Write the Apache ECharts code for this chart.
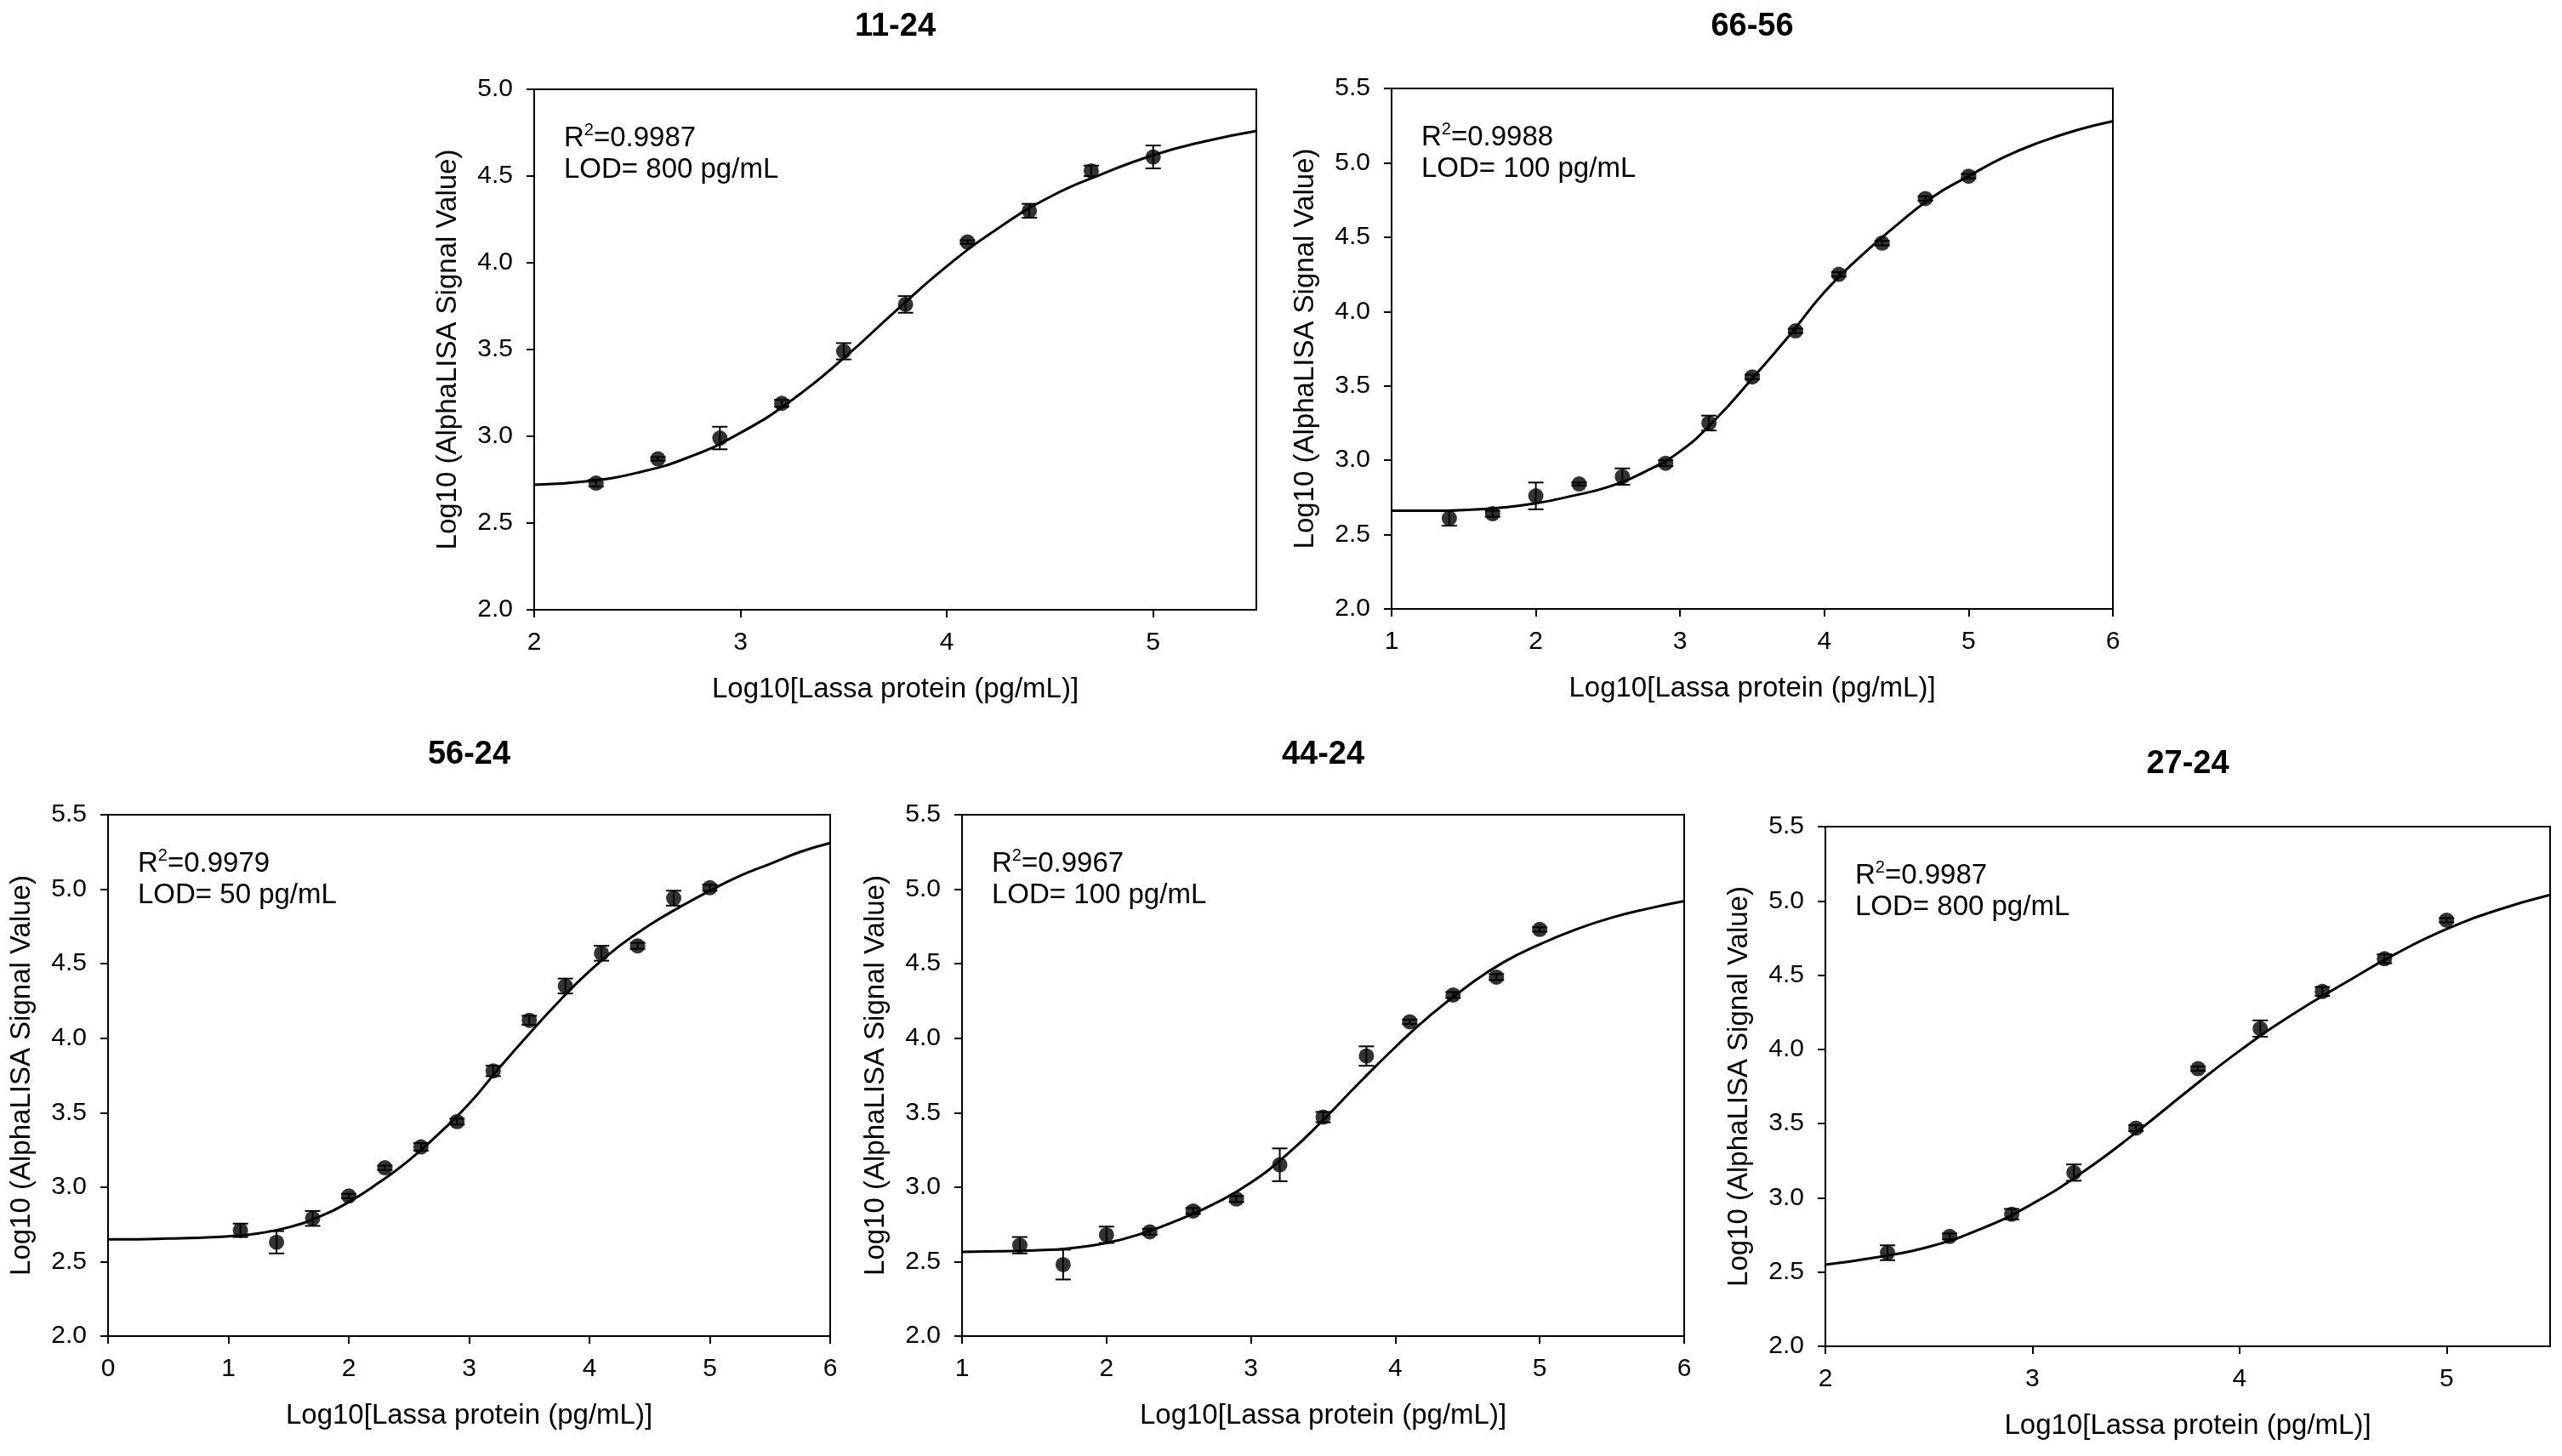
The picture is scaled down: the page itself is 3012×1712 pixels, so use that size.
<!DOCTYPE html>
<html>
<head>
<meta charset="utf-8">
<script src="https://cdn.jsdelivr.net/npm/echarts@6/dist/echarts.min.js"></script>
<style>
  html, body { margin: 0; padding: 0; background: #fff; }
  #chart { width: 3012px; height: 1712px; }
</style>
</head>
<body>
<div id="chart"></div>
<script>
// panel labels and fit stats
const titles = ['11-24', '66-56', '56-24', '44-24', '27-24']
const r2 = ['0.9987', '0.9988', '0.9979', '0.9967', '0.9987']
const lod = ['800', '100', '50', '100', '800']

// axis ranges
const xMin = [2, 1, 0, 1, 2]
const xMax = [5.5, 6, 6, 6, 5.5]
const yMax = [5.0, 5.5, 5.5, 5.5, 5.5]
const xTicks1 = [2, 3, 4, 5]
const xTicks2 = [1, 2, 3, 4, 5, 6]
const xTicks3 = [0, 1, 2, 3, 4, 5, 6]

// measured points (mean, +/- error)
const x1 = [2.3, 2.6, 2.9, 3.2, 3.5, 3.8, 4.1, 4.4, 4.7, 5.0]
const y1 = [2.73, 2.87, 2.99, 3.19, 3.49, 3.76, 4.12, 4.30, 4.53, 4.61]
const e1 = [0.02, 0.01, 0.065, 0.02, 0.047, 0.048, 0.01, 0.04, 0.03, 0.066]

const x2 = [1.4, 1.7, 2.0, 2.3, 2.6, 2.9, 3.2, 3.5, 3.8, 4.1, 4.4, 4.7, 5.0]
const y2 = [2.61, 2.64, 2.76, 2.84, 2.89, 2.98, 3.25, 3.56, 3.87, 4.25, 4.46, 4.76, 4.91]
const e2 = [0.05, 0.02, 0.09, 0.01, 0.055, 0.02, 0.05, 0.015, 0.015, 0.015, 0.015, 0.015, 0.015]

const x3 = [1.1, 1.4, 1.7, 2.0, 2.3, 2.6, 2.9, 3.2, 3.5, 3.8, 4.1, 4.4, 4.7, 5.0]
const y3 = [2.71, 2.63, 2.79, 2.94, 3.13, 3.27, 3.44, 3.78, 4.12, 4.35, 4.57, 4.62, 4.94, 5.01]
const e3 = [0.045, 0.075, 0.05, 0.015, 0.015, 0.025, 0.02, 0.035, 0.03, 0.05, 0.05, 0.02, 0.05, 0.02]

const x4 = [1.4, 1.7, 2.0, 2.3, 2.6, 2.9, 3.2, 3.5, 3.8, 4.1, 4.4, 4.7, 5.0]
const y4 = [2.61, 2.48, 2.68, 2.70, 2.84, 2.92, 3.15, 3.47, 3.88, 4.11, 4.29, 4.41, 4.73]
const e4 = [0.055, 0.10, 0.055, 0.02, 0.02, 0.02, 0.11, 0.035, 0.065, 0.015, 0.02, 0.02, 0.015]

const x5 = [2.3, 2.6, 2.9, 3.2, 3.5, 3.8, 4.1, 4.4, 4.7, 5.0]
const y5 = [2.63, 2.74, 2.89, 3.17, 3.47, 3.87, 4.14, 4.39, 4.61, 4.87]
const e5 = [0.05, 0.02, 0.035, 0.055, 0.02, 0.015, 0.055, 0.03, 0.03, 0.015]

// fitted curves
const cx1 = [2, 2.25, 2.5, 2.75, 3, 3.25, 3.5, 3.75, 4, 4.25, 4.5, 4.75, 5, 5.25, 5.5]
const cy1 = [2.72, 2.74, 2.79, 2.88, 3.02, 3.21, 3.45, 3.72, 3.98, 4.20, 4.38, 4.51, 4.62, 4.70, 4.76]

const cx2 = [1, 1.25, 1.5, 1.75, 2, 2.25, 2.5, 2.75, 3, 3.25, 3.5, 3.75, 4, 4.25, 4.5, 4.75, 5, 5.25, 5.5, 5.75, 6]
const cy2 = [2.66, 2.66, 2.665, 2.68, 2.71, 2.76, 2.82, 2.92, 3.06, 3.28, 3.55, 3.83, 4.13, 4.37, 4.58, 4.77, 4.91, 5.04, 5.14, 5.22, 5.28]

const cx3 = [0, 0.25, 0.5, 0.75, 1, 1.25, 1.5, 1.75, 2, 2.25, 2.5, 2.75, 3, 3.25, 3.5, 3.75, 4, 4.25, 4.5, 4.75, 5, 5.25, 5.5, 5.75, 6]
const cy3 = [2.65, 2.65, 2.655, 2.66, 2.67, 2.69, 2.73, 2.80, 2.90, 3.03, 3.18, 3.36, 3.56, 3.80, 4.03, 4.25, 4.45, 4.62, 4.76, 4.88, 4.99, 5.09, 5.17, 5.25, 5.31]

const cx4 = [1, 1.25, 1.5, 1.75, 2, 2.25, 2.5, 2.75, 3, 3.25, 3.5, 3.75, 4, 4.25, 4.5, 4.75, 5, 5.25, 5.5, 5.75, 6]
const cy4 = [2.565, 2.57, 2.575, 2.59, 2.625, 2.69, 2.78, 2.89, 3.03, 3.22, 3.45, 3.70, 3.94, 4.16, 4.35, 4.51, 4.63, 4.73, 4.81, 4.87, 4.92]

const cx5 = [2, 2.25, 2.5, 2.75, 3, 3.25, 3.5, 3.75, 4, 4.25, 4.5, 4.75, 5, 5.25, 5.5]
const cy5 = [2.55, 2.60, 2.67, 2.79, 2.96, 3.18, 3.44, 3.72, 3.99, 4.23, 4.44, 4.64, 4.81, 4.94, 5.04]

const panels = [
  { x: x1, y: y1, e: e1, cx: cx1, cy: cy1, ticks: xTicks1 },
  { x: x2, y: y2, e: e2, cx: cx2, cy: cy2, ticks: xTicks2 },
  { x: x3, y: y3, e: e3, cx: cx3, cy: cy3, ticks: xTicks3 },
  { x: x4, y: y4, e: e4, cx: cx4, cy: cy4, ticks: xTicks2 },
  { x: x5, y: y5, e: e5, cx: cx5, cy: cy5, ticks: xTicks1 }
]

// plot boxes in px
const boxes = [
  { left: 628, top: 105, width: 849, height: 612, titleY: 32 },
  { left: 1636, top: 104, width: 848, height: 612, titleY: 32 },
  { left: 127, top: 958, width: 849, height: 613, titleY: 888 },
  { left: 1131, top: 958, width: 849, height: 613, titleY: 888 },
  { left: 2146, top: 972, width: 852, height: 611, titleY: 899 }
]

const FONT = "'Liberation Sans', Arial, sans-serif"
const ink = '#000'

const chart = echarts.init(document.getElementById('chart'))

const errorBars = (params, api) => {
  const x = api.value(0)
  const lo = api.coord([x, api.value(1)])
  const hi = api.coord([x, api.value(2)])
  const w = 9
  const style = { stroke: ink, lineWidth: 2 }
  return {
    type: 'group',
    children: [
      { type: 'line', shape: { x1: lo[0], y1: lo[1], x2: hi[0], y2: hi[1] }, style },
      { type: 'line', shape: { x1: lo[0] - w, y1: lo[1], x2: lo[0] + w, y2: lo[1] }, style },
      { type: 'line', shape: { x1: hi[0] - w, y1: hi[1], x2: hi[0] + w, y2: hi[1] }, style }
    ]
  }
}

const grid = boxes.map(b => ({
  left: b.left, top: b.top, width: b.width, height: b.height,
  show: true, borderColor: ink, borderWidth: 2, backgroundColor: 'transparent'
}))

const xAxis = panels.map((p, i) => ({
  type: 'value',
  gridIndex: i,
  min: xMin[i],
  max: xMax[i],
  interval: 1,
  name: 'Log10[Lassa protein (pg/mL)]',
  nameLocation: 'middle',
  nameGap: 77,
  nameTextStyle: { fontFamily: FONT, fontSize: 33, color: ink },
  axisLine: { show: true, lineStyle: { color: ink, width: 2 } },
  axisTick: { show: true, inside: false, length: 9, customValues: p.ticks, lineStyle: { color: ink, width: 2 } },
  axisLabel: { customValues: p.ticks, margin: 24, fontFamily: FONT, fontSize: 30, color: ink },
  splitLine: { show: false }
}))

const yAxis = panels.map((p, i) => ({
  type: 'value',
  gridIndex: i,
  min: 2,
  max: yMax[i],
  interval: 0.5,
  name: 'Log10 (AlphaLISA Signal Value)',
  nameLocation: 'middle',
  nameGap: 85,
  nameTextStyle: { fontFamily: FONT, fontSize: 33, color: ink },
  axisLine: { show: true, lineStyle: { color: ink, width: 2 } },
  axisTick: { show: true, inside: false, length: 9, lineStyle: { color: ink, width: 2 } },
  axisLabel: { margin: 25, fontFamily: FONT, fontSize: 30, color: ink, formatter: v => v.toFixed(1) },
  splitLine: { show: false }
}))

const series = []
panels.forEach((p, i) => {
  series.push({
    type: 'custom',
    xAxisIndex: i,
    yAxisIndex: i,
    renderItem: errorBars,
    encode: { x: 0, y: [1, 2] },
    data: p.x.map((v, k) => [v, p.y[k] - p.e[k], p.y[k] + p.e[k]]),
    z: 2
  })
  series.push({
    type: 'line',
    xAxisIndex: i,
    yAxisIndex: i,
    data: p.cx.map((v, k) => [v, p.cy[k]]),
    smooth: true,
    showSymbol: false,
    lineStyle: { color: ink, width: 3 },
    z: 3
  })
  series.push({
    type: 'scatter',
    xAxisIndex: i,
    yAxisIndex: i,
    data: p.x.map((v, k) => [v, p.y[k]]),
    symbol: 'circle',
    symbolSize: 18,
    itemStyle: { color: ink },
    z: 4
  })
})

const graphic = []
boxes.forEach((b, i) => {
  graphic.push({
    type: 'text',
    x: b.left + b.width / 2,
    y: b.titleY,
    style: { text: titles[i], font: `bold 38px ${FONT}`, fill: ink, align: 'center', verticalAlign: 'middle' }
  })
  graphic.push({
    type: 'text',
    x: b.left + 35,
    y: b.top + 56,
    style: {
      text: `{n|R}{s|2}{n|=${r2[i]}}`,
      align: 'left',
      verticalAlign: 'middle',
      rich: {
        n: { fontFamily: FONT, fontSize: 33, fill: ink, lineHeight: 36, verticalAlign: 'bottom' },
        s: { fontFamily: FONT, fontSize: 20, fill: ink, lineHeight: 36, verticalAlign: 'top' }
      }
    }
  })
  graphic.push({
    type: 'text',
    x: b.left + 35,
    y: b.top + 95,
    style: { text: `LOD= ${lod[i]} pg/mL`, font: `33px ${FONT}`, fill: ink, align: 'left', verticalAlign: 'middle' }
  })
})

chart.setOption({
  animation: false,
  backgroundColor: '#fff',
  grid,
  xAxis,
  yAxis,
  series,
  graphic
})

window.addEventListener('resize', () => chart.resize())
</script>
</body>
</html>
